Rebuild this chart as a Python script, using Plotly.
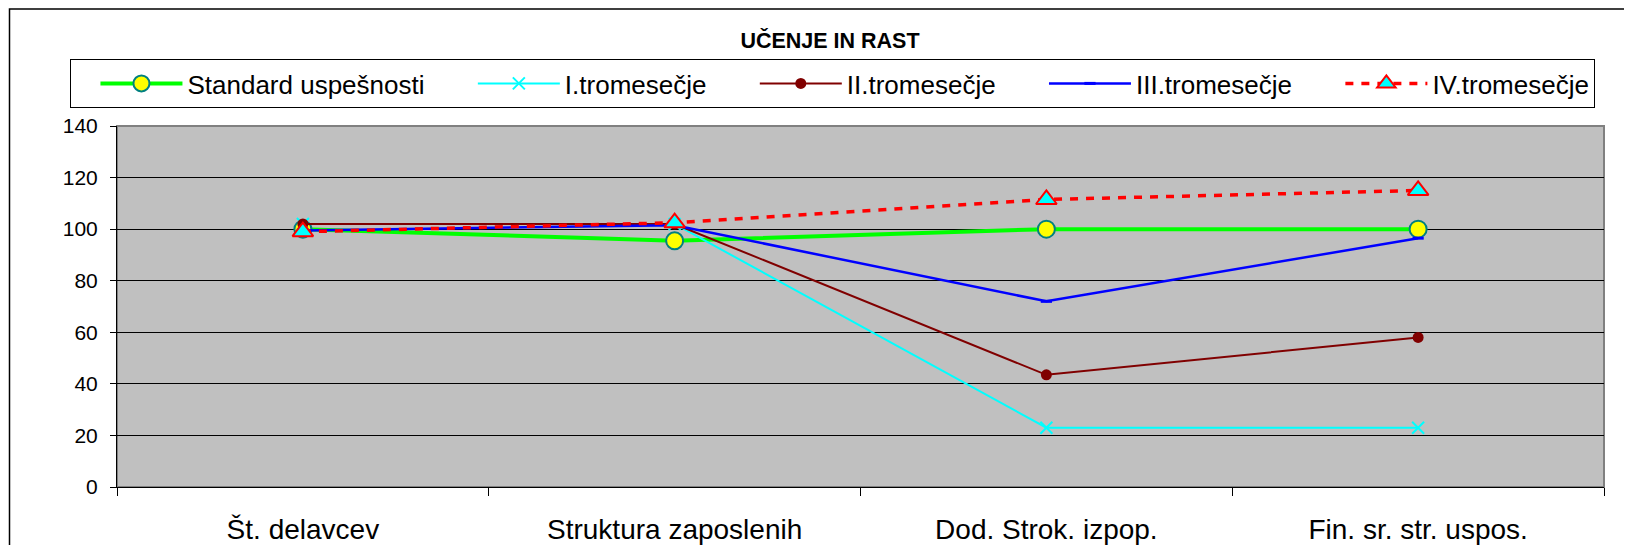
import plotly.graph_objects as go

categories = ["Št. delavcev", "Struktura zaposlenih", "Dod. Strok. izpop.", "Fin. sr. str. uspos."]
standard = [100, 95.5, 100, 100]
q1 = [102, 102, 23, 23]
q2 = [102, 102, 43.5, 58]
q3 = [99.5, 101.5, 72, 96.5]
q4 = [99, 102.5, 111.5, 115]

NB = "\u00a0"
PAD = NB * 6
FONT = "Liberation Sans, Arial, sans-serif"

fig = go.Figure()
fig.add_trace(go.Scatter(
    x=categories, y=standard, name="Standard uspešnosti" + PAD, mode="lines+markers",
    line=dict(color="#00FF00", width=4),
    marker=dict(symbol="circle", size=17, color="#FFFF00", line=dict(color="#008080", width=2)),
))
fig.add_trace(go.Scatter(
    x=categories, y=q1, name="I.tromesečje" + PAD, mode="lines+markers",
    line=dict(color="#00FFFF", width=2),
    marker=dict(symbol="x-thin", size=12, color="#00FFFF", line=dict(color="#00FFFF", width=2)),
))
fig.add_trace(go.Scatter(
    x=categories, y=q2, name="II.tromesečje" + PAD, mode="lines+markers",
    line=dict(color="#800000", width=2),
    marker=dict(symbol="circle", size=11, color="#800000"),
))
fig.add_trace(go.Scatter(
    x=categories, y=q3, name="III.tromesečje" + PAD, mode="lines+markers",
    line=dict(color="#0000FF", width=2.5),
    marker=dict(symbol="line-ew", size=8, color="#0000FF", line=dict(color="#0000FF", width=3)),
))
fig.add_trace(go.Scatter(
    x=categories, y=q4, name="IV.tromesečje", mode="lines+markers",
    line=dict(color="#FF0000", width=3.5, dash="8px,8px"),
    marker=dict(symbol="triangle-up", size=18, color="#00FFFF", line=dict(color="#FF0000", width=2)),
))

# page has an 8px body margin; convert page pixel coords to figure coords
OFF = 8
W, H = 1632, 545
L = 117 - OFF
T = 126 - OFF
R = W - (1604 - OFF)
B = H - (487 - OFF)
pw, ph = W - L - R, H - T - B

def px(x):
    return (x - OFF - L) / pw

def py(y):
    return (H - B - (y - OFF)) / ph

fig.update_layout(
    width=W, height=H,
    margin=dict(l=L, r=R, t=T, b=B, autoexpand=False),
    paper_bgcolor="white",
    plot_bgcolor="#C0C0C0",
    font=dict(family=FONT, color="black"),
    title=dict(text="<b>UČENJE IN RAST</b>", x=(830 - OFF) / W, xanchor="center",
               y=1 - (40 - OFF) / H, yanchor="middle", font=dict(size=21.5, family=FONT)),
    showlegend=True,
    legend=dict(
        orientation="h", x=px(70), xanchor="left", y=py(59), yanchor="top",
        bgcolor="white", bordercolor="black", borderwidth=1,
        font=dict(size=26, family=FONT), itemwidth=82,
        title=dict(text=NB * 2, font=dict(size=26)),
    ),
    xaxis=dict(
        type="category", showgrid=False, zeroline=False,
        showline=True, linecolor="black", linewidth=1,
        ticks="outside", tickson="boundaries", ticklen=8, tickcolor="black",
        tickfont=dict(size=28, family=FONT), ticklabelstandoff=17,
        range=[-0.5, 3.5],
    ),
    yaxis=dict(
        range=[0, 140], dtick=20, showgrid=True, gridcolor="black", gridwidth=1,
        zeroline=False, showline=True, linecolor="black", linewidth=1,
        ticks="outside", ticklen=6, tickcolor="black",
        tickfont=dict(size=21, family=FONT), ticklabelstandoff=8,
    ),
    shapes=[
        dict(type="rect", xref="paper", yref="paper", x0=0, x1=1, y0=0, y1=1,
             line=dict(color="#808080", width=2), layer="below"),
        dict(type="rect", xref="paper", yref="paper", x0=px(9.5), x1=px(1660), y0=py(570), y1=py(9),
             line=dict(color="black", width=1.5), layer="below"),
    ],
)

fig.write_html("out.html")
